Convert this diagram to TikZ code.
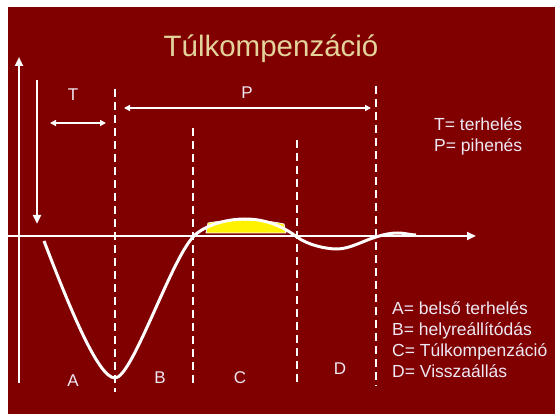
\documentclass[tikz,border=0pt]{standalone}
\usepackage{fontspec}
\setmainfont{Liberation Sans}
\usetikzlibrary{arrows.meta}
\definecolor{bg}{RGB}{128,0,0}
\definecolor{titlec}{RGB}{228,212,156}
\definecolor{txt}{RGB}{238,232,245}
\tikzset{
  axisline/.style={white, line width=2.6pt},
  bigtip/.style={-{Triangle[width=8pt,length=9pt]}},
  dline/.style={white, line width=2pt, dash pattern=on 8pt off 5pt},
  spanarrow/.style={white, line width=1.6pt, {Triangle[width=6pt,length=6pt]}-{Triangle[width=6pt,length=6pt]}},
  lbl/.style={txt, font=\fontsize{17}{20}\selectfont, inner sep=0pt},
  legend/.style={txt, font=\fontsize{17.5}{21}\selectfont, align=left, inner sep=0pt, anchor=north west},
}
\begin{document}
\begin{tikzpicture}[x=1pt,y=-1pt]
\useasboundingbox (0,0) rectangle (555,414);
\fill[white] (0,0) rectangle (555,414);
\fill[bg] (8,7) rectangle (555,414);
% title
\node[titlec, font=\fontsize{29.5}{34}\selectfont, inner sep=0pt] (title) at (271,49) {Túlkompenzáció};
% axes
\coordinate (vb) at (19,383);
\coordinate (vt) at (19,57);
\draw[axisline, bigtip] (vb) -- (vt);
\coordinate (db) at (37,80);
\coordinate (dt) at (37,224);
\draw[axisline, bigtip] (db) -- (dt);
\coordinate (hl) at (8,236);
\coordinate (hr) at (476,236);
\draw[axisline, bigtip] (hl) -- (hr);
% dashed lines
\coordinate (d1t) at (115,89); \coordinate (d1b) at (115,392);
\coordinate (d2t) at (193,128); \coordinate (d2b) at (193,386);
\coordinate (d3t) at (297,140); \coordinate (d3b) at (297,383);
\coordinate (d4t) at (376,86); \coordinate (d4b) at (376,386);
\draw[dline] (d1t) -- (d1b);
\draw[dline] (d2t) -- (d2b);
\draw[dline] (d3t) -- (d3b);
\draw[dline] (d4t) -- (d4b);
% yellow region
\fill[yellow, draw=white, line width=0.8pt] (206,233) -- (208,223) .. controls (230,219) and (262,219) .. (284,224) -- (286,233) -- cycle;
% curve
\draw[white, line width=3pt, line join=round]
  (44,241) .. controls (69,306) and (98,378) .. (115,378)
  .. controls (132,378) and (170,262) .. (193,237)
  .. controls (203,226) and (225,219) .. (245,219)
  .. controls (268,219) and (285,228) .. (297,237)
  .. controls (307,244.5) and (325,249) .. (337,249)
  .. controls (350,249) and (365,240) .. (376,237)
  .. controls (385,234) and (392,233) .. (398,233)
  .. controls (405,233) and (410,235) .. (416,235);
% span arrows
\coordinate (ta) at (50,123); \coordinate (tb) at (106,123);
\draw[spanarrow] (ta) -- (tb);
\coordinate (pa) at (124,108); \coordinate (pb) at (371,108);
\draw[spanarrow] (pa) -- (pb);
\node[lbl] (T) at (73,95) {T};
\node[lbl] (P) at (247,93) {P};
% region labels
\node[lbl] (A) at (73,381) {A};
\node[lbl] (B) at (160,378) {B};
\node[lbl] (C) at (240,378) {C};
\node[lbl] (D) at (340,369) {D};
% legends
\node[legend] (leg1) at (434,117) {T= terhelés\\P= pihenés};
\node[legend] (leg2) at (392,301) {A= belső terhelés\\B= helyreállítódás\\C= Túlkompenzáció\\D= Visszaállás};
\end{tikzpicture}
\end{document}
